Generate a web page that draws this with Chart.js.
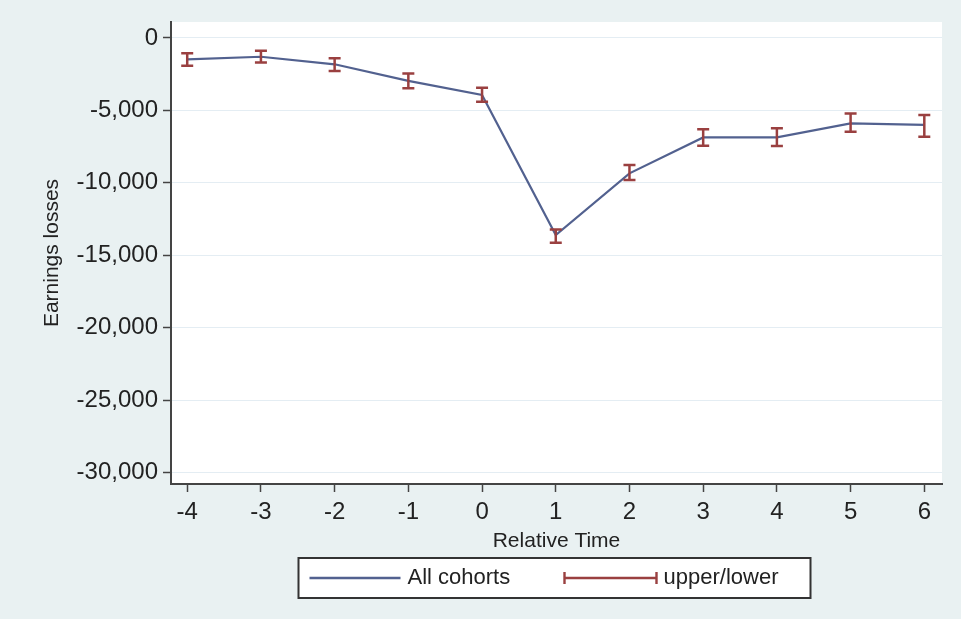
<!DOCTYPE html>
<html>
<head>
<meta charset="utf-8">
<title>Earnings losses by relative time</title>
<script src="https://cdn.jsdelivr.net/npm/chart.js@4.4.1/dist/chart.umd.min.js"></script>
<style>
    html, body { margin: 0; padding: 0; background: #e9f1f2; }
    #wrap { position: relative; width: 961px; height: 619px; }
</style>
</head>
<body>
<div id="wrap"><canvas id="earningsChart"></canvas></div>
<script>
// ---------------------------------------------------------------------------
// Data: estimated earnings losses with upper/lower confidence bounds
// ---------------------------------------------------------------------------
const relTime  = [-4, -3, -2, -1, 0, 1, 2, 3, 4, 5, 6];
const estimate = [-1480, -1300, -1820, -2960, -3940, -13610, -9350, -6870, -6870, -5900, -6010];
const upper    = [-1060, -880, -1410, -2450, -3440, -13220, -8780, -6310, -6240, -5210, -5330];
const lower    = [-1920, -1690, -2290, -3480, -4410, -14140, -9810, -7450, -7470, -6480, -6820];
const yTicks   = [0, -5000, -10000, -15000, -20000, -25000, -30000];

const seriesLabel = 'All cohorts';
const barsLabel = 'upper/lower';

const LINE_COLOR = '#52618f';
const BAR_COLOR = '#9a4040';
const AXIS_COLOR = '#444';
const TEXT_COLOR = '#222';

Chart.defaults.font.family = "'Liberation Sans', Arial, sans-serif";

// White plotting region behind the grid
const plotBackground = {
    id: 'plotBackground',
    beforeDraw(chart) {
        const { ctx, chartArea: a } = chart;
        ctx.save();
        ctx.fillStyle = '#ffffff';
        ctx.fillRect(a.left, a.top, a.right - a.left, a.bottom - a.top);
        ctx.restore();
    }
};

// Capped vertical bars for the upper/lower bounds
const errorBars = {
    id: 'errorBars',
    afterDatasetsDraw(chart) {
        const { ctx, scales: { x, y } } = chart;
        const cap = 6;
        ctx.save();
        ctx.strokeStyle = BAR_COLOR;
        ctx.lineWidth = 2.5;
        relTime.forEach((t, i) => {
            const px = x.getPixelForValue(t);
            const pu = y.getPixelForValue(upper[i]);
            const pl = y.getPixelForValue(lower[i]);
            ctx.beginPath();
            ctx.moveTo(px, pu); ctx.lineTo(px, pl);
            ctx.moveTo(px - cap, pu); ctx.lineTo(px + cap, pu);
            ctx.moveTo(px - cap, pl); ctx.lineTo(px + cap, pl);
            ctx.stroke();
        });
        ctx.restore();
    }
};

// Boxed legend under the x axis title
const legendBox = {
    id: 'legendBox',
    afterDraw(chart) {
        const { ctx, chartArea: a } = chart;
        const w = 512, h = 40;
        const x = (a.left + a.right) / 2 - w / 2 - 2;
        const y = a.bottom + 74;
        const my = y + h / 2;
        ctx.save();
        ctx.fillStyle = '#ffffff';
        ctx.fillRect(x, y, w, h);
        ctx.strokeStyle = '#333';
        ctx.lineWidth = 2;
        ctx.strokeRect(x, y, w, h);

        ctx.font = "22px 'Liberation Sans', Arial, sans-serif";
        ctx.fillStyle = TEXT_COLOR;
        ctx.textBaseline = 'middle';

        // line sample
        ctx.strokeStyle = LINE_COLOR;
        ctx.lineWidth = 2.4;
        ctx.beginPath();
        ctx.moveTo(x + 11, my); ctx.lineTo(x + 102, my);
        ctx.stroke();
        ctx.fillText(chart.data.datasets[0].label, x + 109, my);

        // capped bar sample
        ctx.strokeStyle = BAR_COLOR;
        ctx.beginPath();
        ctx.moveTo(x + 266, my); ctx.lineTo(x + 358, my);
        ctx.moveTo(x + 266, my - 6); ctx.lineTo(x + 266, my + 6);
        ctx.moveTo(x + 358, my - 6); ctx.lineTo(x + 358, my + 6);
        ctx.stroke();
        ctx.fillText(barsLabel, x + 365, my);
        ctx.restore();
    }
};

new Chart(document.getElementById('earningsChart').getContext('2d'), {
    type: 'line',
    data: {
        datasets: [{
            label: seriesLabel,
            data: relTime.map((t, i) => ({ x: t, y: estimate[i] })),
            borderColor: LINE_COLOR,
            borderWidth: 2.2,
            pointRadius: 0,
            tension: 0
        }]
    },
    options: {
        responsive: true,
        maintainAspectRatio: false,
        animation: false,
        layout: { padding: { top: 22, right: 19, bottom: 65, left: 0 } },
        plugins: {
            legend: { display: false },
            tooltip: { enabled: false }
        },
        scales: {
            x: {
                type: 'linear',
                min: -4.22,
                max: 6.24,
                afterBuildTicks: s => { s.ticks = relTime.map(v => ({ value: v })); },
                afterFit: s => { s.height = 70; },
                border: { color: AXIS_COLOR, width: 2 },
                grid: { drawOnChartArea: false, tickColor: AXIS_COLOR, tickLength: 8, tickWidth: 1.5 },
                ticks: { color: TEXT_COLOR, font: { size: 24 }, padding: 6, maxRotation: 0 },
                title: {
                    display: true, text: 'Relative Time', color: TEXT_COLOR,
                    font: { size: 21 }, padding: { top: 0, bottom: 0 }
                }
            },
            y: {
                min: -30800,
                max: 1100,
                afterBuildTicks: s => { s.ticks = yTicks.map(v => ({ value: v })); },
                afterFit: s => { s.width = 171; },
                border: { color: AXIS_COLOR, width: 2 },
                grid: { color: '#e4edf3', lineWidth: 1, tickColor: AXIS_COLOR, tickLength: 8, tickWidth: 1.5 },
                ticks: {
                    color: TEXT_COLOR, font: { size: 24 }, padding: 5,
                    callback: v => v.toLocaleString('en-US')
                },
                title: {
                    display: true, text: 'Earnings losses', color: TEXT_COLOR,
                    font: { size: 21 }, padding: { top: 40, bottom: 0 }
                }
            }
        }
    },
    plugins: [plotBackground, errorBars, legendBox]
});
</script>
</body>
</html>
